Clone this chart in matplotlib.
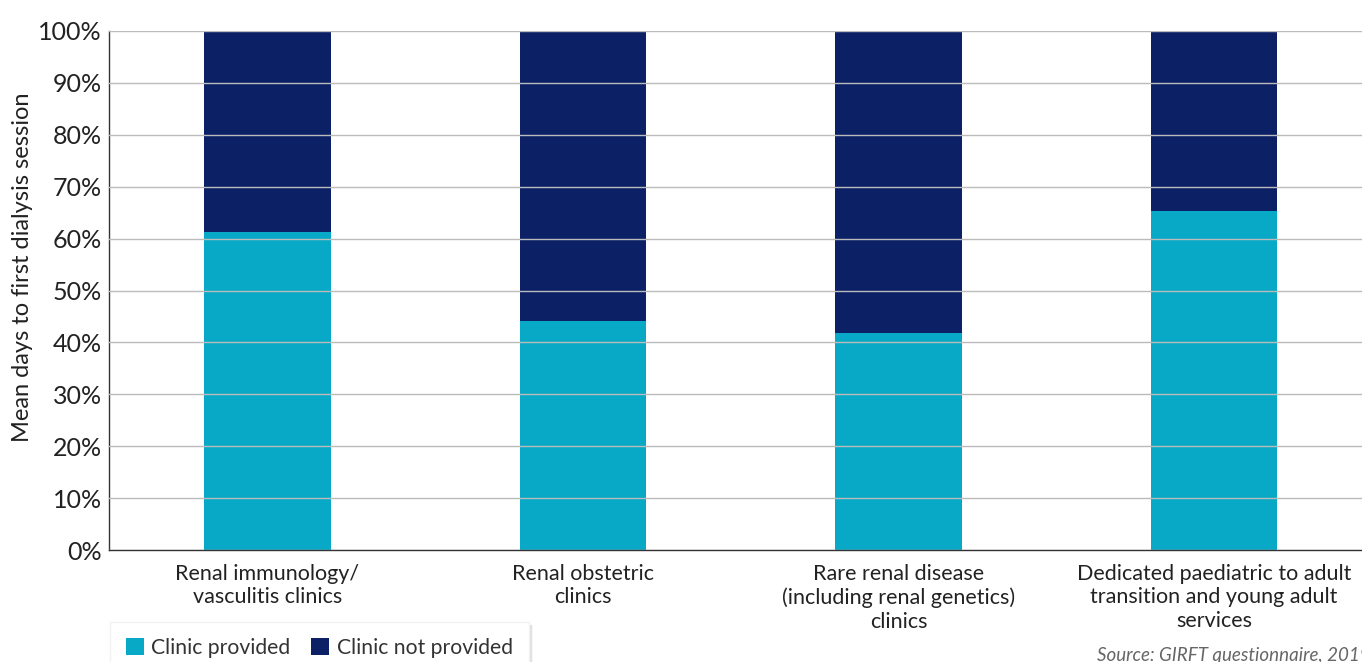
import matplotlib
matplotlib.use("Agg")
import matplotlib.pyplot as plt
import numpy as np

categories = ["Renal immunology/\nvasculitis clinics",
              "Renal obstetric\nclinics",
              "Rare renal disease\n(including renal genetics)\nclinics",
              "Dedicated paediatric to adult\ntransition and young adult\nservices"]
provided = [61.3, 44.1, 41.8, 65.3]
not_provided = [100 - v for v in provided]
yticks = [0, 10, 20, 30, 40, 50, 60, 70, 80, 90, 100]
ytick_labels = [f"{v}%" for v in yticks]
series_names = ["Clinic provided", "Clinic not provided"]

plt.rcParams['font.family'] = ['Lato', 'DejaVu Sans']
c_prov = "#07A9C6"
c_not = "#0C2066"

fig = plt.figure(figsize=(13.62, 6.62), dpi=100)
ax = fig.add_axes([109/1362, 1 - 550/662, 1 - 109/1362, (550 - 31)/662])

x = np.arange(len(categories))
b1 = ax.bar(x, provided, width=0.4, color=c_prov, zorder=1, label=series_names[0])
b2 = ax.bar(x, not_provided, bottom=provided, width=0.4, color=c_not, zorder=1, label=series_names[1])

ax.set_xlim(-0.502, 3.469)
ax.set_ylim(0, 100)
ax.set_yticks(yticks)
ax.set_yticklabels(ytick_labels, fontsize=18, color="#222222")
ax.yaxis.grid(True, color="#BBBBBB", linewidth=1.0, zorder=3)
ax.set_axisbelow(False)
for b in list(b1) + list(b2):
    b.set_zorder(1)
ax.tick_params(axis='y', length=0, pad=5)
ax.tick_params(axis='x', length=0, pad=10)
ax.set_xticks(x)
ax.set_xticklabels(categories, fontsize=15.5, color="#222222", linespacing=1.22)
for s in ["top", "right"]:
    ax.spines[s].set_visible(False)
ax.spines["left"].set_color("#333333")
ax.spines["bottom"].set_color("#333333")
ax.spines["left"].set_linewidth(1.0)
ax.spines["bottom"].set_linewidth(1.0)
ax.set_ylabel("Mean days to first dialysis session", fontsize=17, color="#222222", labelpad=3)
ax.yaxis.set_label_coords(-0.0605, 0.545)

leg = fig.legend(handles=[b1, b2], labels=series_names, loc="upper left",
                 bbox_to_anchor=(110/1362, 1 - 622/662), ncol=2, fontsize=15.2,
                 frameon=True, fancybox=False, edgecolor="#F2F2F2",
                 handlelength=0.85, handleheight=0.85, handletextpad=0.35,
                 columnspacing=1.0, borderpad=0.75, borderaxespad=0,
                 shadow={'color': '#E0E0E0', 'alpha': 1.0})
for t in leg.get_texts():
    t.set_color("#333333")

fig.text(1097/1362, 1 - 656/662, "Source: GIRFT questionnaire, 2019", fontsize=13.5,
         style="italic", color="#666666", ha="left", va="center")

fig.savefig("out.png", dpi=100)
